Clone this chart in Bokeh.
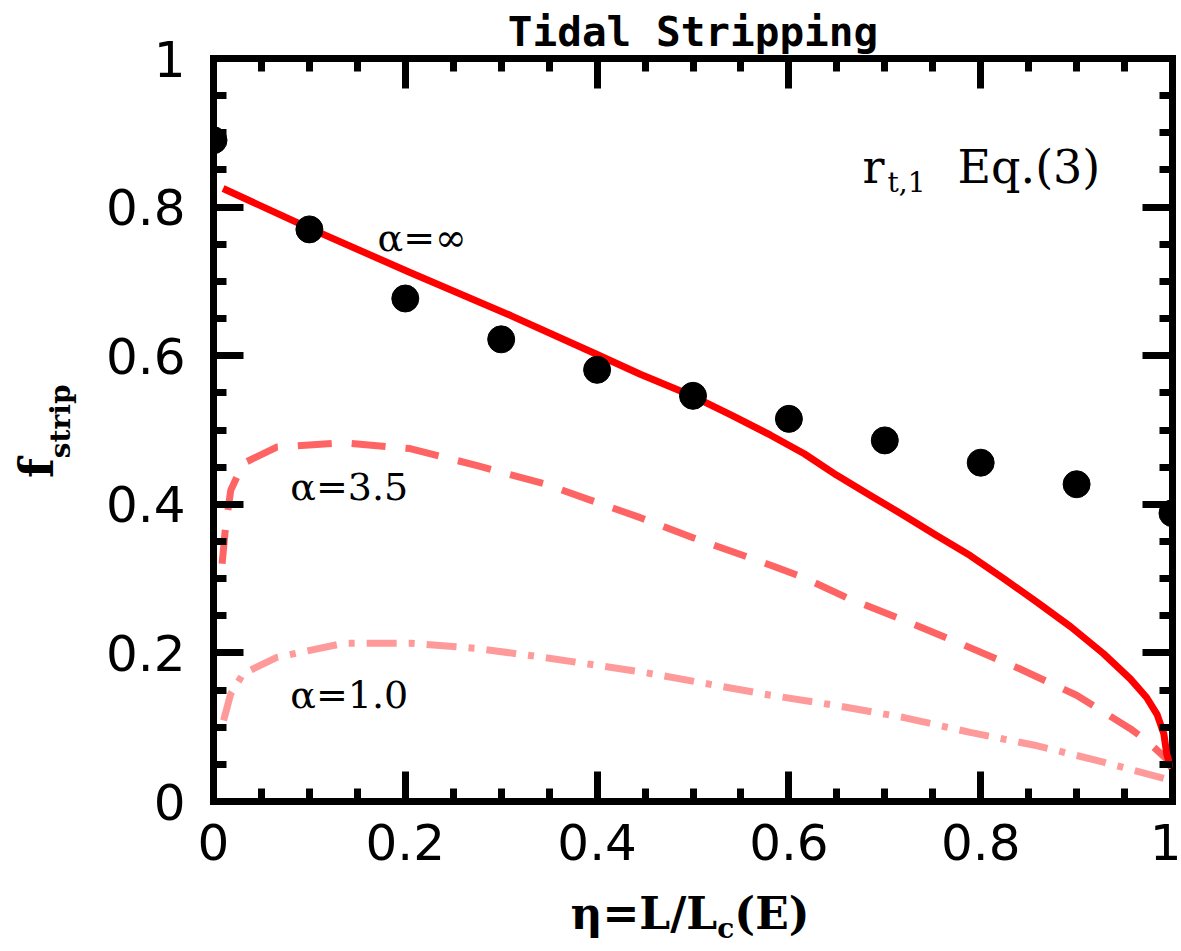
import numpy as np
from bokeh.plotting import figure
from bokeh.models import Range1d, LinearAxis, FixedTicker, Label, Div
from bokeh.layouts import column, row
from bokeh.embed import file_html
from bokeh.resources import INLINE

# ---- data ----
dots_eta = [0.0, 0.1, 0.2, 0.3, 0.4, 0.5, 0.6, 0.7, 0.8, 0.9, 1.0]
dots_f = [0.890, 0.770, 0.677, 0.622, 0.581, 0.546, 0.515, 0.486, 0.456, 0.427, 0.388]

inf_eta = [0.010, 0.101, 0.205, 0.310, 0.396, 0.445, 0.499, 0.540, 0.581, 0.616,
           0.650, 0.685, 0.720, 0.754, 0.789, 0.824, 0.859, 0.894, 0.928, 0.956,
           0.973, 0.984, 0.991, 0.994, 0.997]
inf_f = [0.825, 0.771, 0.712, 0.654, 0.604, 0.575, 0.546, 0.520, 0.493, 0.468,
         0.439, 0.412, 0.385, 0.358, 0.331, 0.300, 0.268, 0.235, 0.199, 0.165,
         0.140, 0.117, 0.091, 0.064, 0.050]

a35_eta = [0.009, 0.0125, 0.018, 0.031, 0.066, 0.135, 0.205, 0.275, 0.344, 0.414,
           0.445, 0.500, 0.581, 0.616, 0.661, 0.720, 0.780, 0.840, 0.900, 0.956,
           0.973, 0.994, 0.999]
a35_f = [0.320, 0.369, 0.419, 0.455, 0.477, 0.483, 0.475, 0.452, 0.428, 0.396,
         0.382, 0.355, 0.318, 0.301, 0.274, 0.244, 0.212, 0.179, 0.143, 0.098,
         0.082, 0.057, 0.045]

a10_eta = [0.0105, 0.018, 0.031, 0.066, 0.136, 0.205, 0.275, 0.344, 0.448, 0.581,
           0.650, 0.720, 0.789, 0.859, 0.928, 0.994]
a10_f = [0.109, 0.145, 0.172, 0.194, 0.213, 0.213, 0.206, 0.194, 0.174, 0.143,
         0.129, 0.113, 0.093, 0.075, 0.053, 0.030]

major_ticks = [0, 0.2, 0.4, 0.6, 0.8, 1]
minor_ticks = [0.05, 0.1, 0.15, 0.25, 0.3, 0.35, 0.45, 0.5, 0.55, 0.65, 0.7, 0.75,
               0.85, 0.9, 0.95]
tick_labels = ["0", "0.2", "0.4", "0.6", "0.8", "1"]

YW = 80      # width of the y-label column
P_H = 886    # figure height

p = figure(width=1181 - YW, height=P_H, x_range=Range1d(0, 1), y_range=Range1d(0, 1),
           output_backend="svg", toolbar_location=None,
           min_border_left=213 - YW, min_border_right=9, min_border_top=58,
           min_border_bottom=P_H - 801)
p.background_fill_color = "white"
p.border_fill_color = "white"
p.grid.visible = False
p.outline_line_color = "black"
p.outline_line_width = 7
p.outline_line_join = "miter"

p.title.text = "Tidal Stripping"
p.title.text_font = "DejaVu Sans Mono"
p.title.text_font_size = "41px"
p.title.text_font_style = "bold"
p.title.text_color = "black"
p.title.align = "center"
p.title.standoff = 5

p.add_layout(LinearAxis(), "above")
p.add_layout(LinearAxis(), "right")

overrides = {t: l for t, l in zip(major_ticks, tick_labels)}
for ax in p.axis:
    ax.ticker = FixedTicker(ticks=major_ticks, minor_ticks=minor_ticks)
    ax.axis_line_color = None
    ax.major_tick_in = 30
    ax.major_tick_out = 0
    ax.minor_tick_in = 13
    ax.minor_tick_out = 0
    ax.major_tick_line_width = 7
    ax.minor_tick_line_width = 7
    ax.major_tick_line_color = "black"
    ax.minor_tick_line_color = "black"
    ax.major_label_text_font = "DejaVu Sans"
    ax.major_label_text_font_size = "50px"
    ax.major_label_text_color = "black"
    ax.major_label_overrides = overrides

for ax in (p.above[0], p.right[0]):
    ax.major_label_text_font_size = "0px"
    ax.major_label_overrides = {t: "" for t in major_ticks}
    ax.major_label_standoff = 0

p.left[0].major_label_standoff = 28
p.below[0].major_label_standoff = 22

# ---- curves ----
p.line(a10_eta, a10_f, line_color="#ff9a9a", line_width=7, line_dash="30 12 6 12")
p.line(a35_eta, a35_f, line_color="#ff6464", line_width=7, line_dash="34 20")
p.line(inf_eta, inf_f, line_color="#ff0000", line_width=7)
p.scatter(dots_eta, dots_f, size=27, marker="circle", fill_color="black", line_color="black")

# ---- in-plot annotations ----
def lab(text, x, y, size):
    p.add_layout(Label(x=x, y=y, text=text, text_font="DejaVu Serif", text_font_size=size,
                       text_align="left", text_baseline="alphabetic", text_color="black"))

lab("α=∞", 0.171, 0.758, "38px")
lab("α=3.5", 0.080, 0.423, "38px")
lab("α=1.0", 0.080, 0.143, "38px")
lab("r", 0.6767, 0.8546, "46px")
lab("t,1", 0.7028, 0.833, "28px")
lab("Eq.(3)", 0.7758, 0.8546, "46px")

# ---- axis labels (rich text with subscripts) ----
ylab_html = (
    '<div style="position:relative;width:0;height:0;left:14px;top:478px;">'
    '<div style="transform-origin:0 0;transform:rotate(-90deg);white-space:nowrap;'
    "font-family:'DejaVu Serif';font-weight:bold;font-size:46px;line-height:46px;color:black;\">"
    'f<span style="font-size:28px;position:relative;top:17px;">strip</span></div></div>'
)
xlab_html = (
    '<div style="margin-left:200px;width:980px;padding-top:6px;text-align:center;'
    "white-space:nowrap;font-family:'DejaVu Serif';font-weight:bold;font-size:44px;"
    'line-height:44px;color:black;">'
    'η=L/L<span style="font-size:28px;position:relative;top:9px;">c</span>(E)</div>'
)
ydiv = Div(text=ylab_html, width=YW, height=P_H, margin=0)
xdiv = Div(text=xlab_html, width=1181, height=951 - P_H - 1, margin=0)

layout = column(row(ydiv, p, spacing=0), xdiv, spacing=0)

open("out.html", "w").write(file_html(layout, INLINE))
